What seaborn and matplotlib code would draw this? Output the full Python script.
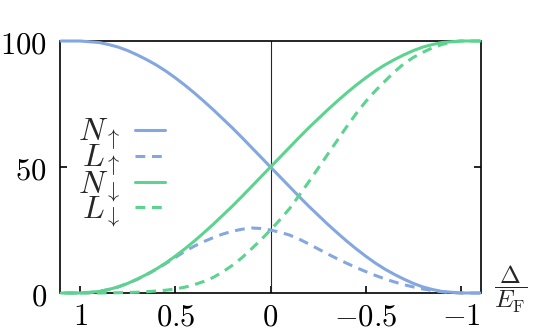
"""Spin-resolved occupation curves versus detuning."""

import matplotlib

matplotlib.use("Agg")
import matplotlib.pyplot as plt
import pandas as pd
import seaborn as sns

# detuning Delta / E_F (axis runs from +1.1 down to -1.1), step 0.05
delta = [1.1, 1.05, 1.0, 0.95, 0.9, 0.85, 0.8, 0.75, 0.7, 0.65, 0.6, 0.55,
         0.5, 0.45, 0.4, 0.35, 0.3, 0.25, 0.2, 0.15, 0.1, 0.05, 0.0,
         -0.05, -0.1, -0.15, -0.2, -0.25, -0.3, -0.35, -0.4, -0.45, -0.5,
         -0.55, -0.6, -0.65, -0.7, -0.75, -0.8, -0.85, -0.9, -0.95, -1.0,
         -1.05, -1.1]

n_up = [100, 100, 100, 99.7, 99.4, 98.6, 97.6, 96.2, 94.5, 92.6, 90.5, 88.1,
        85.4, 82.5, 79.4, 76.1, 72.7, 69.1, 65.5, 61.7, 57.8, 53.9, 50.0,
        46.1, 42.2, 38.3, 34.5, 30.9, 27.3, 23.9, 20.6, 17.5, 14.6,
        11.9, 9.5, 7.4, 5.5, 3.8, 2.4, 1.4, 0.6, 0.3, 0,
        0, 0]
l_up = [0, 0, 0, 0.15, 0.6, 1.4, 2.4, 3.8, 5.4, 7.3, 9.4, 11.7,
        14.1, 16.5, 18.6, 20.4, 22.0, 23.4, 24.5, 25.3, 25.8, 25.6, 25.0,
        24.1, 23.0, 21.4, 19.5, 17.5, 15.5, 13.6, 11.8, 10.1, 8.5,
        7.0, 5.6, 4.4, 3.3, 2.4, 1.6, 1.0, 0.5, 0.15, 0,
        0, 0]
n_down = [0, 0, 0, 0.3, 0.6, 1.4, 2.4, 3.8, 5.5, 7.4, 9.5, 11.9,
          14.6, 17.5, 20.6, 23.9, 27.3, 30.9, 34.5, 38.3, 42.2, 46.1, 50.0,
          53.9, 57.8, 61.7, 65.5, 69.1, 72.7, 76.1, 79.4, 82.5, 85.4,
          88.1, 90.5, 92.6, 94.5, 96.2, 97.6, 98.6, 99.4, 99.7, 100,
          100, 100]
l_down = [0, 0, 0, 0, 0, 0.05, 0.1, 0.2, 0.3, 0.5, 0.8, 1.1,
          1.6, 2.3, 3.3, 4.6, 6.2, 8.4, 11.0, 14.0, 17.5, 21.1, 25.0,
          29.1, 33.5, 38.7, 44.0, 49.5, 55.0, 60.5, 66.0, 71.2, 76.0,
          80.2, 84.0, 87.7, 91.0, 93.5, 95.5, 97.3, 98.6, 99.6, 100,
          100, 100]

labels = [r"$N_{\uparrow}$", r"$L_{\uparrow}$", r"$N_{\downarrow}$", r"$L_{\downarrow}$"]
x_ticks = [1, 0.5, 0, -0.5, -1]
x_tick_labels = [r"$1$", r"$0.5$", r"$0$", r"$-0.5$", r"$-1$"]
y_ticks = [0, 50, 100]
y_tick_labels = [r"$0$", r"$50$", r"$100$"]

BLUE = "#84a7e0"
GREEN = "#5cd38e"
DASH = (0, (3.2, 2.2))

sns.set_theme(style="ticks")
plt.rcParams["font.family"] = ["DejaVu Serif"]
plt.rcParams["mathtext.fontset"] = "cm"

frame = pd.DataFrame({"delta": delta, "n_up": n_up, "l_up": l_up,
                      "n_down": n_down, "l_down": l_down})

fig = plt.figure(figsize=(5.37, 3.32), dpi=100)
ax = fig.add_axes([60 / 537, 1 - 293 / 332, 421 / 537, 252 / 332])

ax.axvline(0, color="0.15", lw=0.8, zorder=1)

styles = [("n_up", BLUE, "-"), ("l_up", BLUE, DASH),
          ("n_down", GREEN, "-"), ("l_down", GREEN, DASH)]
for (column, color, ls), label in zip(styles, labels):
    sns.lineplot(data=frame, x="delta", y=column, color=color, linestyle=ls,
                 lw=2.2, label=label, ax=ax, zorder=3, clip_on=False)

ax.set_xlim(1.105, -1.105)
ax.set_ylim(0, 100)
ax.set_xticks(x_ticks, x_tick_labels)
ax.set_yticks(y_ticks, y_tick_labels)
ax.set_xlabel("")
ax.set_ylabel("")
for spine in ax.spines.values():
    spine.set_visible(True)
    spine.set_color("black")
    spine.set_linewidth(1.2)
ax.tick_params(axis="both", direction="in", length=5, width=1.2, labelsize=22,
               colors="black")
ax.tick_params(axis="x", pad=6)
ax.tick_params(axis="y", right=True, pad=9.5)

ax.text(1.07, 0.015, r"$\dfrac{\Delta}{E_{\mathrm{F}}}$", transform=ax.transAxes,
        fontsize=18, ha="center", va="center")

handles, _ = ax.get_legend_handles_labels()
ax.legend(handles, labels, loc="upper right", markerfirst=False, frameon=False,
          fontsize=23, handlelength=0.95, handletextpad=0.45, labelspacing=-0.30,
          borderpad=0, borderaxespad=0,
          bbox_to_anchor=(165 / 537, 1 - 117 / 332), bbox_transform=fig.transFigure)

fig.savefig("out.png", dpi=100)
